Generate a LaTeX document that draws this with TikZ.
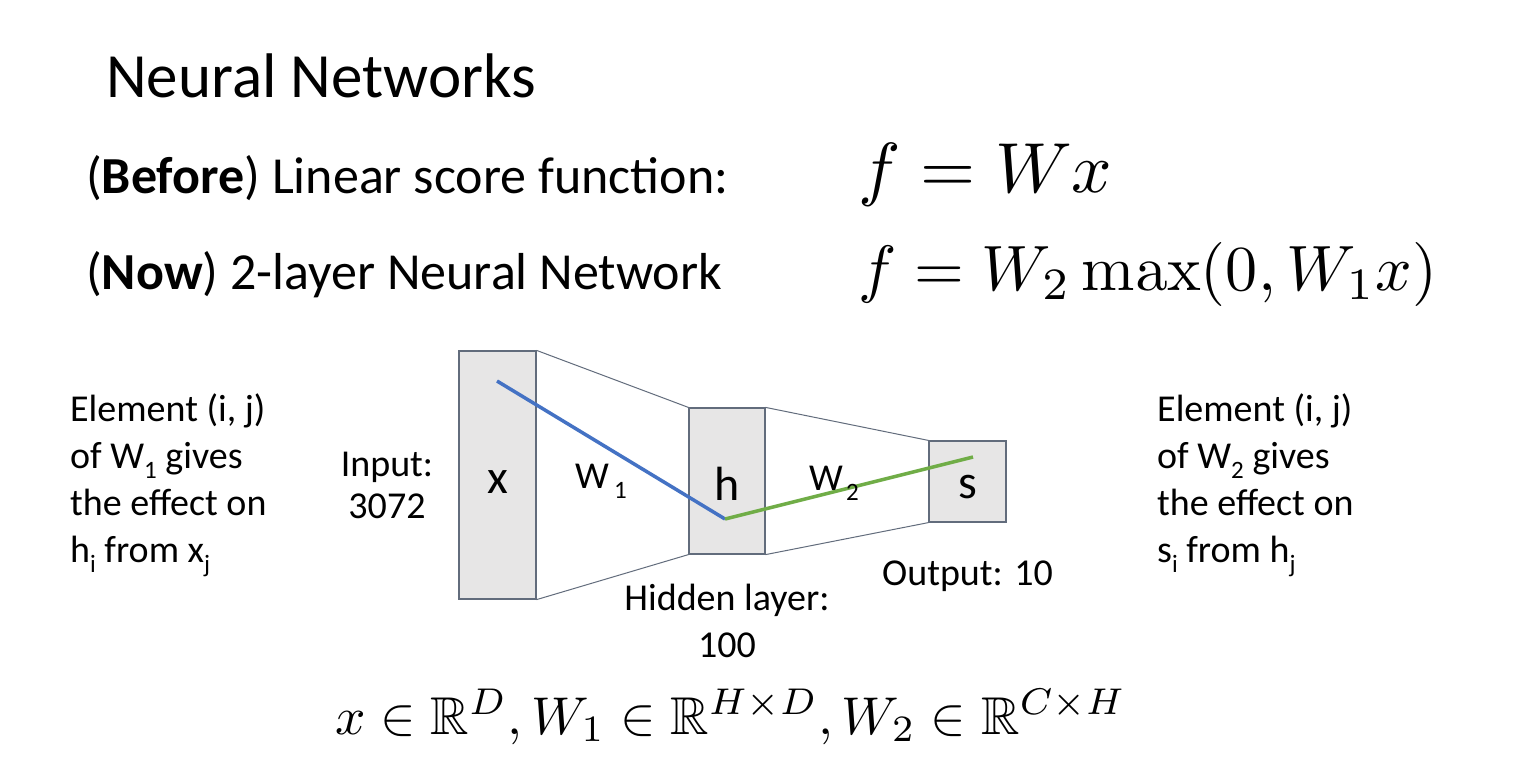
\documentclass[tikz,border=0pt]{standalone}
\usepackage{amsmath,amssymb}
\usepackage[no-math]{fontspec}
\setmainfont{Carlito}
\usepackage{graphicx}
\definecolor{boxfill}{RGB}{231,230,230}
\definecolor{boxline}{RGB}{98,108,124}
\definecolor{wblue}{RGB}{68,114,196}
\definecolor{wgreen}{RGB}{112,173,71}
\newcommand\lsub[1]{\raisebox{-0.27em}{\fontsize{25}{25}\selectfont #1}}
\tikzset{
  layerbox/.style={draw=boxline, fill=boxfill, line width=1.2pt, inner sep=0pt},
  trap/.style={draw=boxline, line width=1pt},
  body/.style={inner sep=0pt, anchor=base west, align=left, font=\fontsize{38}{47}\selectfont},
  boxlabel/.style={inner sep=0pt, anchor=base, font=\fontsize{48}{48}\selectfont},
  wlabel/.style={inner sep=0pt, anchor=base west, font=\fontsize{38}{38}\selectfont},
}
\begin{document}
\begin{tikzpicture}[x=1pt,y=-1pt]
\useasboundingbox[fill=white] (0,0) rectangle (1521,769);

\node[inner sep=0pt, anchor=base west, font=\fontsize{63}{63}\selectfont] (title) at (106,97) {Neural Networks};
\node[inner sep=0pt, anchor=base west, font=\fontsize{52}{52}\selectfont] (before) at (86,193) {(\textbf{Before}) Linear score function:};
\node[inner sep=0pt, anchor=base west, font=\fontsize{52}{52}\selectfont] (now) at (86,289) {(\textbf{Now}) 2-layer Neural Network};
\node[inner sep=0pt, anchor=base west] (f1) at (858,192) {\resizebox{254pt}{!}{$f = Wx$}};
\node[inner sep=0pt, anchor=base west] (f2) at (858,290) {\resizebox{579pt}{!}{$f = W_2\max(0, W_1x)$}};

% boxes
\node[layerbox, minimum width=77pt, minimum height=248pt] (xbox) at (497.5,475) {};
\node[layerbox, minimum width=76pt, minimum height=146pt] (hbox) at (727,481) {};
\node[layerbox, minimum width=77pt, minimum height=81pt] (sbox) at (967.5,481.5) {};

\draw[trap] (xbox.north east) -- (hbox.north west);
\draw[trap] (xbox.south east) -- (hbox.south west);
\draw[trap] (hbox.north east) -- (sbox.north west);
\draw[trap] (hbox.south east) -- (sbox.south west);

\node[boxlabel] (xl) at (497.5,493) {x};
\node[boxlabel] (hl) at (727,500) {h};
\node[boxlabel] (sl) at (968,498) {s};

\coordinate (xj) at (497,381);
\coordinate (hi) at (725,519);
\coordinate (sk) at (973,457);
\draw[wblue, line width=3.5pt] (xj) -- (hi);
\draw[wgreen, line width=3.5pt] (hi) -- (sk);

\node[wlabel] (w1) at (575,488) {W\hspace{5pt}\lsub{1}};
\node[wlabel] (w2) at (809,490) {W\hspace{3pt}\lsub{2}};

% multi-line nodes: base anchor is the baseline of the last line
\node[body] (left) at (70,562) {Element (i, j)\\of W\lsub{1} gives\\the effect on\\h\lsub{i} from x\lsub{j}};
\node[body] (right) at (1157,562) {Element (i, j)\\of W\lsub{2} gives\\the effect on\\s\lsub{i} from h\lsub{j}};
\node[body, align=center, anchor=base, font=\fontsize{38}{42}\selectfont] (input) at (387,518) {Input:\\3072};
\node[body, align=center, anchor=base] (hidden) at (727,657) {Hidden layer:\\100};
\node[body] (output) at (882,585) {Output: 10};

\node[inner sep=0pt, anchor=base west] (dims) at (335,734) {\resizebox{791pt}{!}{$x\in\mathbb{R}^D, W_1\in\mathbb{R}^{H\times D}, W_2\in\mathbb{R}^{C\times H}$}};
\end{tikzpicture}
\end{document}
